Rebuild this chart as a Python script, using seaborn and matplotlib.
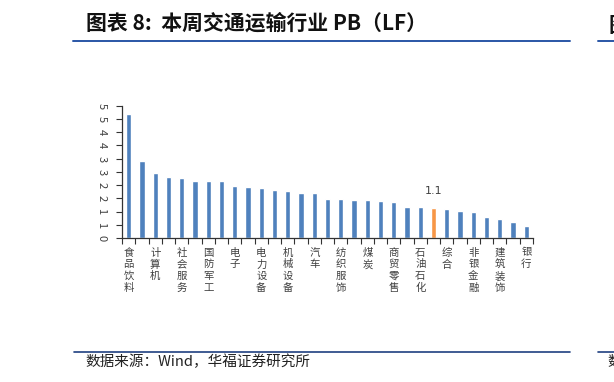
"""
本周交通运输行业 PB（LF） — 申万一级行业 PB 排序柱状图
"""
import matplotlib
matplotlib.use('Agg')
import matplotlib.pyplot as plt
import numpy as np
import pandas as pd
import seaborn as sns
from matplotlib.lines import Line2D

# ── Data ─────────────────────────────────────────────────────────────────────
industries = ['食品饮料', '美容护理', '计算机', '医药生物', '社会服务', '传媒',
              '国防军工', '家用电器', '电子', '通信', '电力设备', '有色金属',
              '机械设备', '农林牧渔', '汽车', '轻工制造', '纺织服饰', '基础化工',
              '煤炭', '环保', '商贸零售', '公用事业', '石油石化', '交通运输',
              '综合', '钢铁', '非银金融', '建筑材料', '建筑装饰', '房地产', '银行']
pb = [4.69, 2.93, 2.45, 2.31, 2.27, 2.17, 2.17, 2.14, 1.98, 1.91, 1.90, 1.81,
      1.76, 1.70, 1.70, 1.49, 1.49, 1.45, 1.42, 1.39, 1.36, 1.16, 1.16, 1.13,
      1.09, 1.02, 0.97, 0.80, 0.71, 0.62, 0.47]
highlight = '交通运输'
highlight_label = '1.1'
y_ticks = [0, 0.5, 1, 1.5, 2, 2.5, 3, 3.5, 4, 4.5, 5]
y_ticklabels = ['0', '1', '1', '2', '2', '3', '3', '4', '4', '5', '5']

title = '图表 8:  本周交通运输行业 PB（LF）'
source = '数据来源：Wind，华福证券研究所'

# ── Style ────────────────────────────────────────────────────────────────────
sns.set_style('ticks')
plt.rcParams['font.family'] = ['Noto Sans CJK SC', 'DejaVu Sans']
plt.rcParams['axes.unicode_minus'] = False

BLUE = '#4f81bd'
ORANGE = '#f79646'
LINE_BLUE = '#2a56a6'

df = pd.DataFrame({'industry': industries, 'pb': pb})
palette = {n: (ORANGE if n == highlight else BLUE) for n in industries}

fig = plt.figure(figsize=(6.14, 3.82), dpi=100)
ax = fig.add_axes([0.199, 0.377, 0.669, 0.346])

sns.barplot(data=df, x='industry', y='pb', hue='industry', palette=palette,
            order=industries, width=0.4, legend=False, saturation=1, ax=ax)

ax.set_xlim(-0.5, len(industries) - 0.5)
ax.set_ylim(0, 5)
ax.set_xlabel('')
ax.set_ylabel('')

# y axis: rotated labels
ax.set_yticks(y_ticks)
ax.set_yticklabels(y_ticklabels, rotation=-90, va='center', ha='center',
                   fontsize=8, color='#404040')
ax.tick_params(axis='y', length=4, width=0.8, pad=11, color='#333333')

# x axis: labels on every other category, tick marks between bars
pos = np.arange(len(industries))
ax.set_xticks(pos)
ax.set_xticklabels(['\n'.join(n) if i % 2 == 0 else '' for i, n in enumerate(industries)],
                   fontsize=7.5, color='#404040', linespacing=1.2, va='top')
ax.tick_params(axis='x', which='major', length=0, pad=7)
ax.set_xticks(np.arange(-0.5, len(industries), 1), minor=True)
ax.tick_params(axis='x', which='minor', length=4, width=0.8, color='#333333')

for s in ['top', 'right']:
    ax.spines[s].set_visible(False)
for s in ['left', 'bottom']:
    ax.spines[s].set_color('#333333')
    ax.spines[s].set_linewidth(0.9)

# annotate highlighted bar
hi = industries.index(highlight)
ax.text(hi, pb[hi] + 0.45, highlight_label, ha='center', va='bottom',
        fontsize=8, color='#404040', family='DejaVu Sans')

# ── Title, source, rules ─────────────────────────────────────────────────────
W, H = 614, 382
fig.text(86 / W, 1 - 23 / H, title, fontsize=15, fontweight='bold',
         ha='left', va='center', color='#111111')
fig.add_artist(Line2D([73 / W, 570 / W], [1 - 40.5 / H] * 2, color=LINE_BLUE, lw=1.4))
fig.add_artist(Line2D([598 / W, 1.0], [1 - 40.5 / H] * 2, color=LINE_BLUE, lw=1.4))
fig.text(609 / W, 1 - 26 / H, '图', fontsize=15, fontweight='bold',
         ha='left', va='center', color='#111111')

fig.add_artist(Line2D([74 / W, 570 / W], [1 - 351.5 / H] * 2, color='#1f3f80', lw=1.2))
fig.add_artist(Line2D([598 / W, 1.0], [1 - 351.5 / H] * 2, color='#1f3f80', lw=1.2))
fig.text(85 / W, 1 - 362 / H, source, fontsize=10.5, ha='left', va='center',
         color='#222222')
fig.text(607 / W, 1 - 362 / H, '数', fontsize=10.5, ha='left', va='center',
         color='#222222')

plt.savefig('out.png', dpi=100)
print("Saved → out.png")
